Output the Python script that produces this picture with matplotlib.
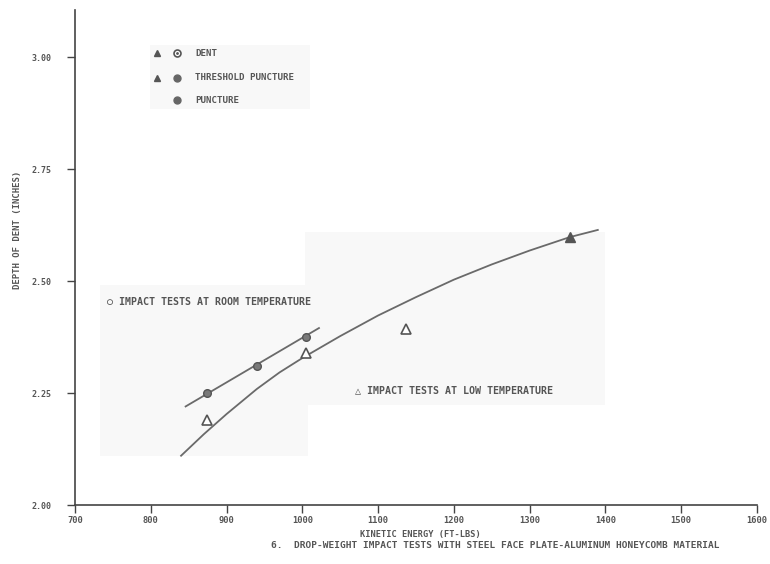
import numpy as np
import matplotlib
matplotlib.use('Agg')
import matplotlib.pyplot as plt
from matplotlib.patches import Rectangle

# ****data*************************************
room_energy = [874, 940, 1005]
room_depth = [2.25, 2.31, 2.375]

low_dent_energy = [874, 1005, 1137]
low_dent_depth = [2.19, 2.34, 2.393]

low_thresh_energy = [1353]
low_thresh_depth = [2.598]

# faired lines drawn through the points
room_line_energy = [846, 1022]
room_line_depth = [2.22, 2.395]

low_line_energy = [840, 870, 900, 940, 970, 1000, 1050, 1100, 1150,
                   1200, 1250, 1300, 1353, 1390]
low_line_depth = [2.11, 2.158, 2.203, 2.259, 2.296, 2.328, 2.377, 2.423, 2.464,
                  2.503, 2.537, 2.568, 2.598, 2.614]

x_ticks = [700, 800, 900, 1000, 1100, 1200, 1300, 1400, 1500, 1600]
y_ticks = [2.00, 2.25, 2.50, 2.75, 3.00]
y_tick_labels = ['2.00', '2.25', '2.50', '2.75', '3.00']

INK = '#555555'
LINE = '#6a6a6a'
MONO = ['DejaVu Sans Mono']

plt.rcParams['font.family'] = MONO

fig = plt.figure(figsize=(7.7, 5.64), dpi=100)
ax = fig.add_axes([0.0974, 0.1046, 0.8856, 0.8777])

# faint scan patches (axes fractions)
for (x0, y0, w, h) in [(0.037, 0.10, 0.305, 0.345), (0.337, 0.202, 0.44, 0.35),
                       (0.11, 0.80, 0.235, 0.13)]:
    ax.add_patch(Rectangle((x0, y0), w, h, transform=ax.transAxes,
                           facecolor='#f8f8f8', edgecolor='none', zorder=0))

# ****lines*******************
ax.plot(room_line_energy, room_line_depth, color=LINE, lw=1.3, zorder=2)
ax.plot(low_line_energy, low_line_depth, color=LINE, lw=1.3, zorder=2)

# ****points*******************
ax.plot(room_energy, room_depth, 'o', ms=5.5, mfc='#7a7a7a', mec='#555555',
        mew=1.0, zorder=3)
ax.plot(low_dent_energy, low_dent_depth, '^', ms=6.5, mfc='white', mec='#555555',
        mew=1.2, zorder=3)
ax.plot(low_thresh_energy, low_thresh_depth, '^', ms=6.5, mfc='#555555',
        mec='#555555', zorder=3)

# ****legend block (hand drawn in the original)*******************
leg_rows = [0.913, 0.863, 0.818]
ax.plot([0.120], [leg_rows[0]], '^', ms=5, color='#555555', transform=ax.transAxes)
ax.plot([0.120], [leg_rows[1]], '^', ms=5, color='#555555', transform=ax.transAxes)
ax.plot([0.150], [leg_rows[0]], 'o', ms=5, mfc='white', mec='#555555', mew=1.2,
        transform=ax.transAxes)
ax.plot([0.150], [leg_rows[0]], '.', ms=2, color='#555555', transform=ax.transAxes)
ax.plot([0.150], [leg_rows[1]], 'o', ms=5, color='#666666', transform=ax.transAxes)
ax.plot([0.150], [leg_rows[2]], 'o', ms=5, color='#666666', transform=ax.transAxes)
for y, s in zip(leg_rows, ['DENT', 'THRESHOLD PUNCTURE', 'PUNCTURE']):
    ax.text(0.176, y, s, transform=ax.transAxes, fontsize=6.6, color=INK,
            fontweight='bold', va='center', ha='left')

ax.text(0.047, 0.411, '\u25cb IMPACT TESTS AT ROOM TEMPERATURE', transform=ax.transAxes,
        fontsize=7.2, color=INK, fontweight='bold', va='center', ha='left')
ax.text(0.410, 0.231, '\u25b3 IMPACT TESTS AT LOW TEMPERATURE', transform=ax.transAxes,
        fontsize=7.2, color=INK, fontweight='bold', va='center', ha='left')

# ****axes*******************
ax.set_xlim(700, 1600)
ax.set_ylim(2.0, 3.105)
ax.set_xticks(x_ticks)
ax.set_xticklabels([str(t) for t in x_ticks])
ax.set_yticks(y_ticks)
ax.set_yticklabels(y_tick_labels)
for side in ['top', 'right']:
    ax.spines[side].set_visible(False)
for side in ['left', 'bottom']:
    ax.spines[side].set_color('#444444')
    ax.spines[side].set_linewidth(1.2)
ax.tick_params(axis='x', direction='out', length=6, width=1, colors='#444444',
               labelsize=6.3, labelcolor=INK, pad=2)
ax.tick_params(axis='y', direction='out', length=6, width=1, colors='#444444',
               labelsize=6.0, labelcolor=INK, pad=11)
for lab in ax.get_xticklabels() + ax.get_yticklabels():
    lab.set_fontweight('bold')

ax.set_xlabel('KINETIC ENERGY (FT-LBS)', fontsize=6.2, color=INK,
              fontweight='bold')
ax.xaxis.set_label_coords(0.506, -0.05)
ax.set_ylabel('DEPTH OF DENT (INCHES)', fontsize=6.5, color=INK,
              fontweight='bold')
ax.yaxis.set_label_coords(-0.078, 0.556)

fig.text(0.643, 0.033,
         '6.  DROP-WEIGHT IMPACT TESTS WITH STEEL FACE PLATE-ALUMINUM HONEYCOMB MATERIAL',
         fontsize=6.8, color=INK, fontweight='bold', ha='center', va='center')

plt.savefig('out.png', dpi=100, format='png')
